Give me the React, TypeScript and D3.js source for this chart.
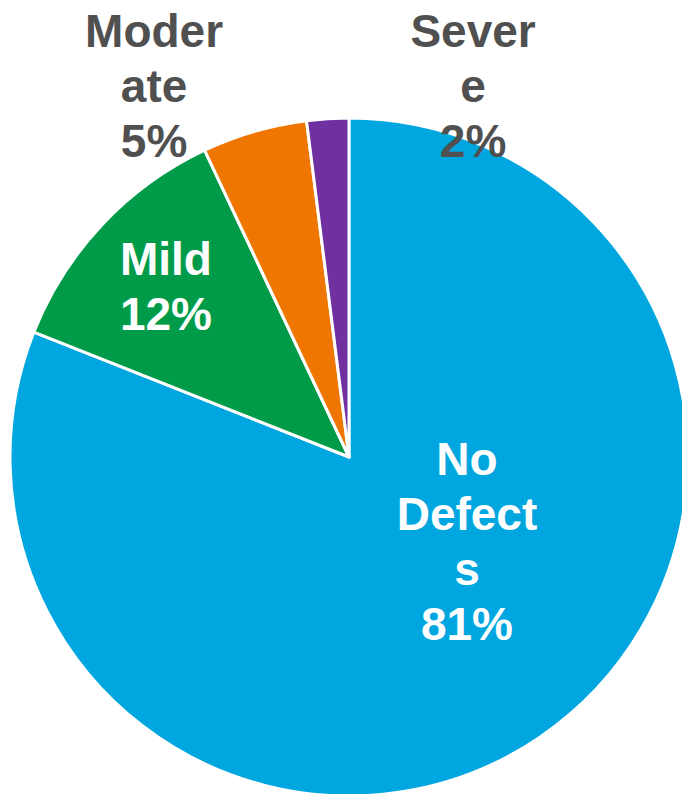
import { useEffect, useRef } from 'react'
import * as d3 from 'd3'

const categories = ['No Defects', 'Mild', 'Moderate', 'Severe']
const shares = [81, 12, 5, 2]
const labelLines = [['No', 'Defect', 's'], ['Mild'], ['Moder', 'ate'], ['Sever', 'e']]
const colors = ['#00a6df', '#009b48', '#ef7601', '#7030a0']
const labelColors = ['#ffffff', '#ffffff', '#505050', '#505050']
// label block centres, as fractions of the radius from the pie centre
const labelOffsets: [number, number][] = [[0.348, 0.248], [-0.54, -0.504], [-0.575, -1.096], [0.366, -1.096]]

type Slice = { name: string; value: number; i: number }

export default function App() {
  const svgRef = useRef<SVGSVGElement>(null)

  useEffect(() => {
    document.body.style.margin = '0'
    const svgEl = svgRef.current
    if (!svgEl) return
    const width = 682
    const height = 794
    const cx = 349
    const cy = 457
    const r = 339
    const lineH = 55
    const fontSize = 46

    const data: Slice[] = categories.map((name, i) => ({ name, value: shares[i], i }))

    const svg = d3.select(svgEl)
    svg.attr('width', width).attr('height', height).selectAll('*').remove()

    const g = svg.append('g').attr('transform', `translate(${cx},${cy})`)

    const pie = d3.pie<Slice>().sort(null).value(d => d.value)
    const arc = d3.arc<d3.PieArcDatum<Slice>>().innerRadius(0).outerRadius(r)

    g.selectAll('path')
      .data(pie(data))
      .join('path')
      .attr('d', arc)
      .attr('fill', d => colors[d.data.i])
      .attr('stroke', '#ffffff')
      .attr('stroke-width', 3)
      .attr('stroke-linejoin', 'round')

    // Labels
    data.forEach(d => {
      const lines = [...labelLines[d.i], `${d.value}%`]
      const [fx, fy] = labelOffsets[d.i]
      const lx = fx * r
      const ly = fy * r
      const firstBase = ly - ((lines.length - 1) * lineH) / 2 + fontSize * 0.716 / 2
      const t = g.append('text')
        .attr('text-anchor', 'middle')
        .style('font-family', '"Liberation Sans", Arial, sans-serif')
        .style('font-weight', 'bold')
        .style('font-size', `${fontSize}px`)
        .style('fill', labelColors[d.i])
      lines.forEach((ln, k) => {
        t.append('tspan').attr('x', lx).attr('y', firstBase + k * lineH).text(ln)
      })
    })
  }, [])

  return <svg ref={svgRef} style={{ display: 'block' }} />
}
